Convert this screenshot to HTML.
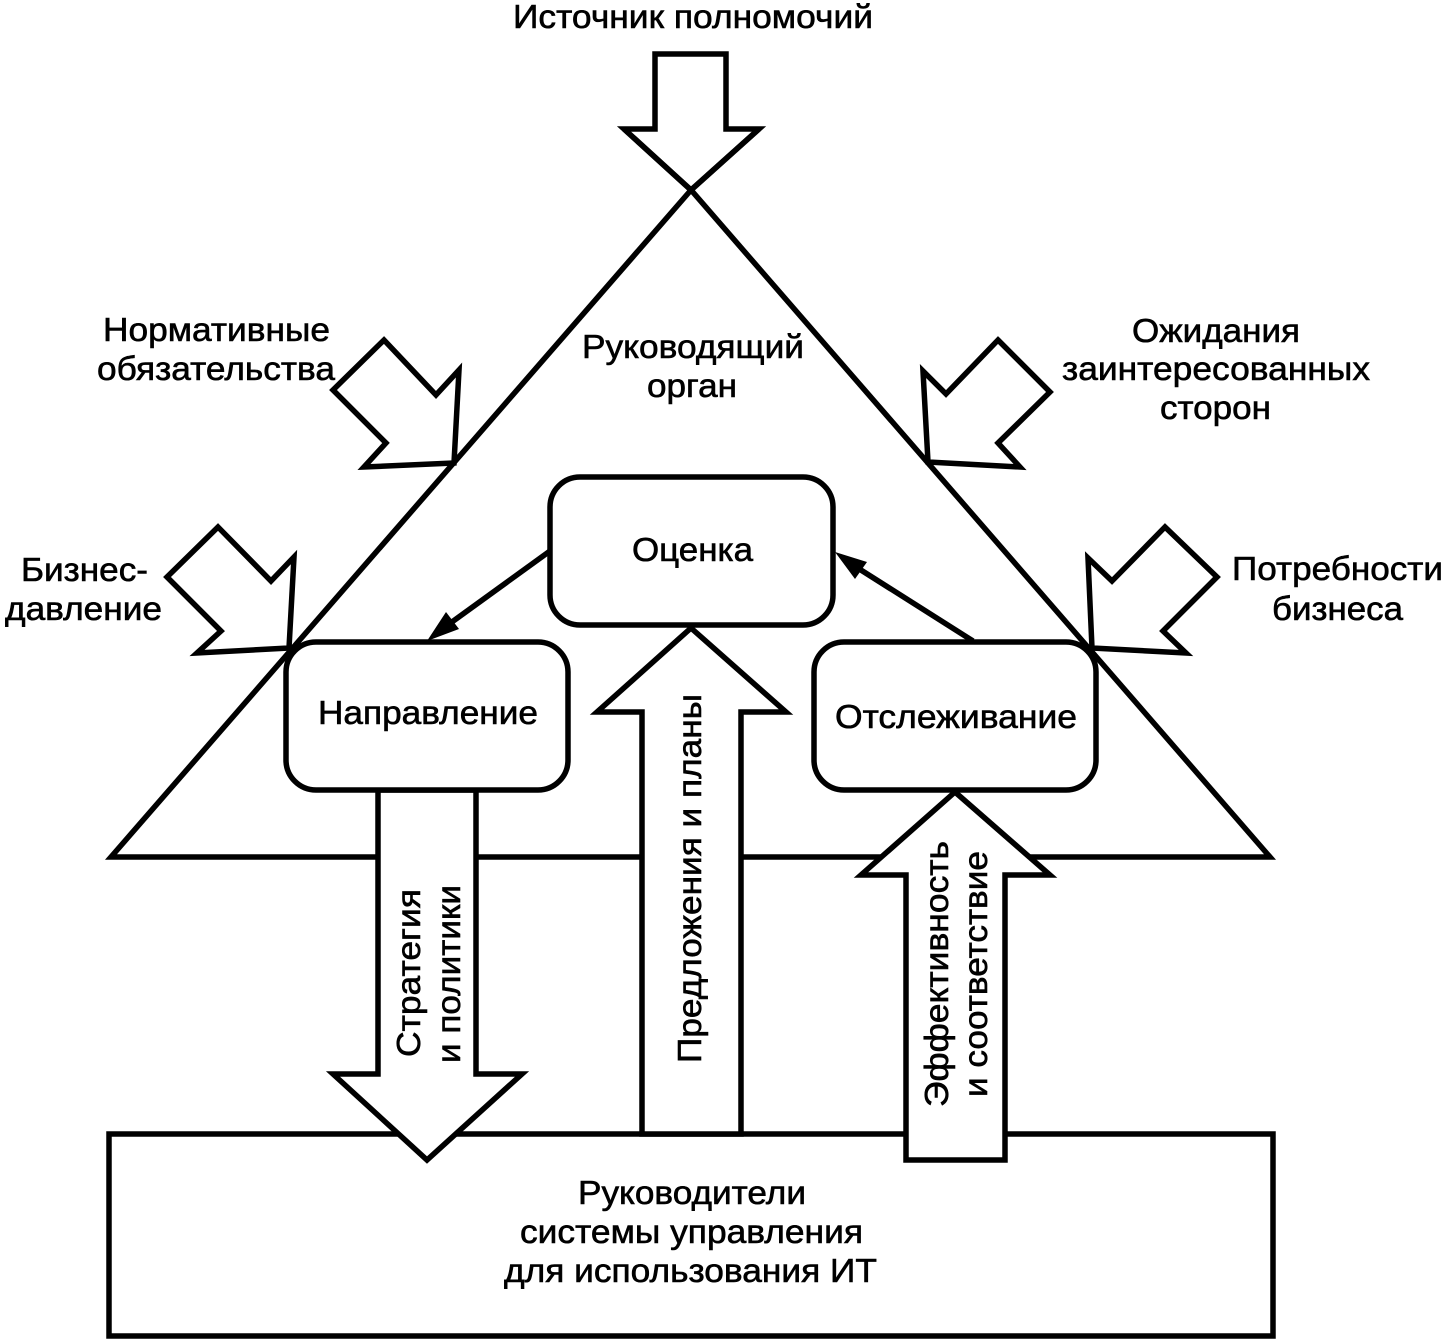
<!DOCTYPE html>
<html><head><meta charset="utf-8"><style>
html,body{margin:0;padding:0;background:#fff;width:1446px;height:1341px;overflow:hidden}
svg{display:block}
text{font-family:"Liberation Sans",sans-serif;font-size:33.5px;fill:#000;stroke:#000;stroke-width:.6px}
.s{fill:#fff;stroke:#000;stroke-width:5.5px;stroke-linejoin:miter;stroke-miterlimit:3}
.b{fill:none;stroke:#000;stroke-width:5.5px}
</style></head><body>
<svg width="1446" height="1341" viewBox="0 0 1446 1341" xmlns="http://www.w3.org/2000/svg">
<polygon class="s" points="691,190 111,857 1270,857"/>
<rect class="s" x="109" y="1134" width="1164" height="202"/>
<polygon class="s" points="655,54 726,54 726,129 759,129 691,190 624,129 655,129"/>
<polyline class="b" points="624,129 691,190 759,129"/>
<polygon class="s" points="384,340 436,395 459,370 454,463 364,467 386,443 333,390"/>
<polygon class="s" points="218,527 271,581 294,557 289,648 197,653 221,631 167,577"/>
<polygon class="s" points="998,340 1050,392 998,443 1020,467 928,462 923,371 946,394"/>
<polygon class="s" points="1165,527 1217,577 1163,631 1186,653 1092,648 1088,558 1112,581"/>
<polygon class="s" points="378,790 476,790 476,1074 522,1074 427,1160 333,1074 378,1074"/>
<polygon class="s" points="691,628 786,712 741,712 741,1134 642,1134 642,712 597,712"/>
<polygon class="s" points="955,792 1050,875 1005,875 1005,1160 906,1160 906,875 861,875"/>
<rect class="s" x="550" y="477" width="283" height="148" rx="30" ry="30"/>
<rect class="s" x="286" y="642" width="282" height="148" rx="30" ry="30"/>
<rect class="s" x="814" y="642" width="282" height="148" rx="30" ry="30"/>
<line x1="550" y1="551" x2="445" y2="627" stroke="#000" stroke-width="5.5"/>
<polygon points="427,641 446,612 459,629" fill="#000"/>
<line x1="973" y1="641" x2="853" y2="565" stroke="#000" stroke-width="5.5"/>
<polygon points="835,552 867,562 855,579" fill="#000"/>
<text x="513" y="28" textLength="360" lengthAdjust="spacingAndGlyphs">Источник полномочий</text>
<text x="103" y="341" textLength="227" lengthAdjust="spacingAndGlyphs">Нормативные</text>
<text x="97" y="380" textLength="238" lengthAdjust="spacingAndGlyphs">обязательства</text>
<text x="21" y="581" textLength="127" lengthAdjust="spacingAndGlyphs">Бизнес-</text>
<text x="5" y="620" textLength="157" lengthAdjust="spacingAndGlyphs">давление</text>
<text x="1132" y="342" textLength="168" lengthAdjust="spacingAndGlyphs">Ожидания</text>
<text x="1062" y="380" textLength="308" lengthAdjust="spacingAndGlyphs">заинтересованных</text>
<text x="1160" y="419" textLength="111" lengthAdjust="spacingAndGlyphs">сторон</text>
<text x="1232" y="580" textLength="211" lengthAdjust="spacingAndGlyphs">Потребности</text>
<text x="1272" y="620" textLength="131" lengthAdjust="spacingAndGlyphs">бизнеса</text>
<text x="582" y="358" textLength="222" lengthAdjust="spacingAndGlyphs">Руководящий</text>
<text x="647" y="397" textLength="90" lengthAdjust="spacingAndGlyphs">орган</text>
<text x="632" y="561" textLength="121" lengthAdjust="spacingAndGlyphs">Оценка</text>
<text x="318" y="724" textLength="220" lengthAdjust="spacingAndGlyphs">Направление</text>
<text x="835" y="728" textLength="242" lengthAdjust="spacingAndGlyphs">Отслеживание</text>
<text x="578" y="1204" textLength="228" lengthAdjust="spacingAndGlyphs">Руководители</text>
<text x="520" y="1243" textLength="343" lengthAdjust="spacingAndGlyphs">системы управления</text>
<text x="504" y="1282" textLength="373" lengthAdjust="spacingAndGlyphs">для использования ИТ</text>
<text transform="translate(701 1063) rotate(-90)" textLength="369" lengthAdjust="spacingAndGlyphs">Предложения и планы</text>
<text transform="translate(420 1057) rotate(-90)" textLength="168" lengthAdjust="spacingAndGlyphs">Стратегия</text>
<text transform="translate(460 1063) rotate(-90)" textLength="178" lengthAdjust="spacingAndGlyphs">и политики</text>
<text transform="translate(948 1107) rotate(-90)" textLength="266" lengthAdjust="spacingAndGlyphs">Эффективность</text>
<text transform="translate(987 1097) rotate(-90)" textLength="246" lengthAdjust="spacingAndGlyphs">и соответствие</text>
</svg>
</body></html>
